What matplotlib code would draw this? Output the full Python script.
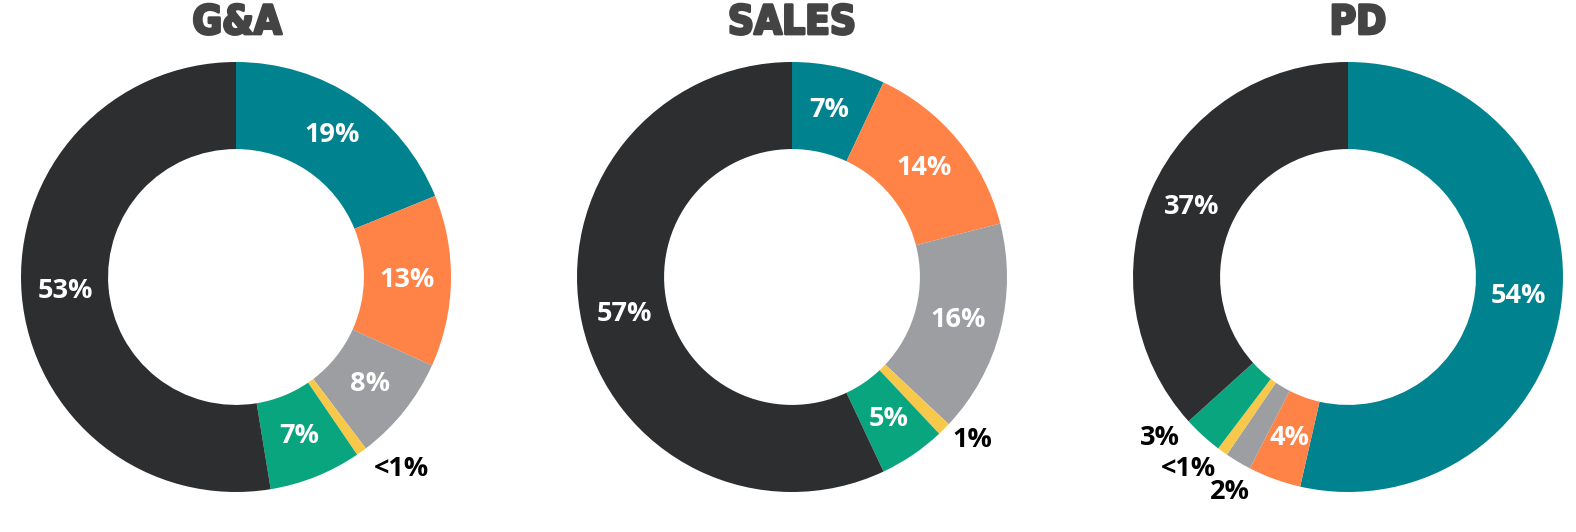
import numpy as np
import matplotlib.pyplot as plt
import matplotlib.patheffects as pe

# データ
titles = ['G&A', 'SALES', 'PD']
colors = ['#00838F', '#FF8246', '#9D9EA2', '#F8C84A', '#09A57E', '#2D2E30']

ga_values = [19, 13, 8, 0.8, 7, 53]
ga_labels = ['19%', '13%', '8%', '<1%', '7%', '53%']
sales_values = [7, 14, 16, 1, 5, 57]
sales_labels = ['7%', '14%', '16%', '1%', '5%', '57%']
pd_values = [54, 4, 2, 0.8, 3, 37]
pd_labels = ['54%', '4%', '2%', '<1%', '3%', '37%']

# 外側に出すラベル (index: (角度のずらし, 半径))
ga_outside = {3: (5, 1.18)}
sales_outside = {3: (3, 1.13)}
pd_outside = {2: (2, 1.14), 3: (-4, 1.16), 4: (-7, 1.15)}

all_values = [ga_values, sales_values, pd_values]
all_labels = [ga_labels, sales_labels, pd_labels]
all_outside = [ga_outside, sales_outside, pd_outside]

W, H = 1576, 532
fig = plt.figure(figsize=(W / 100, H / 100), dpi=100)

centers = [236, 792, 1348]
title_x = [237, 792, 1358]
cy = 277
R = 215
half = 230
width = 0.405

for i in range(3):
    ax = fig.add_axes([(centers[i] - half) / W, (H - cy - half) / H, 2 * half / W, 2 * half / H])
    vals = all_values[i]
    wedges, _ = ax.pie(vals, colors=colors, startangle=90, counterclock=False,
                       radius=1, wedgeprops=dict(width=width, linewidth=0))
    lim = half / R
    ax.set_xlim(-lim, lim)
    ax.set_ylim(-lim, lim)
    ax.set_aspect('equal')
    ax.axis('off')

    for j, w in enumerate(wedges):
        mid = (w.theta1 + w.theta2) / 2
        if j in all_outside[i]:
            d, r = all_outside[i][j]
            ang = np.deg2rad(mid + d)
            col = 'black'
        else:
            ang = np.deg2rad(mid)
            r = 1 - width / 2
            col = 'white'
        ax.text(r * np.cos(ang), r * np.sin(ang), all_labels[i][j], ha='center', va='center',
                color=col, fontsize=19.5, fontweight='bold', family='Open Sans')

    fig.text(title_x[i] / W, 1 - 23 / H, titles[i], ha='center', va='center',
             fontsize=29, fontweight='heavy', fontstretch='condensed', color='#444444',
             family='DejaVu Sans',
             path_effects=[pe.withStroke(linewidth=2, foreground='#444444')])

fig.savefig('out.png', dpi=100)
